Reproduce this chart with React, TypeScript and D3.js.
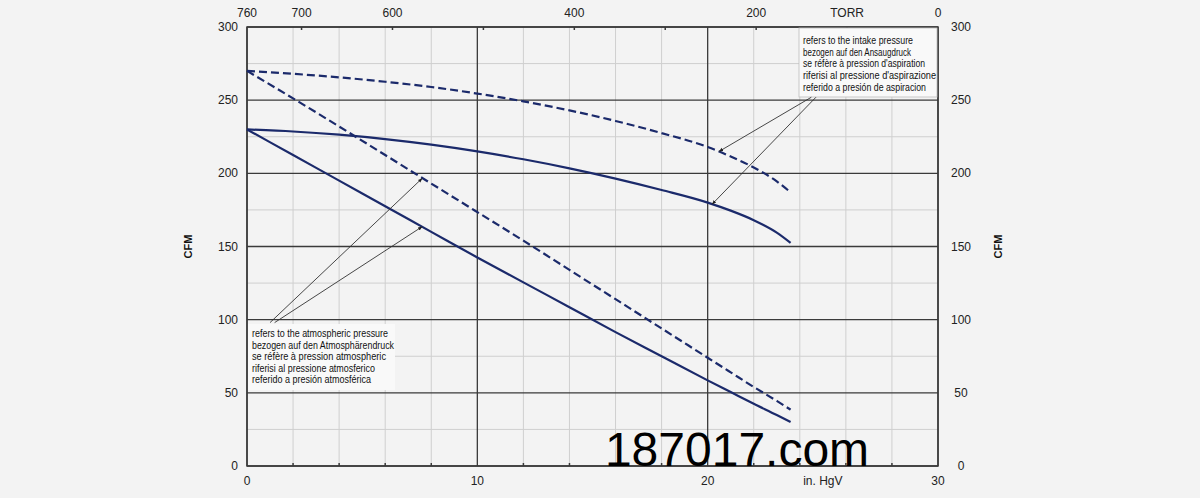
import React from 'react';
import * as d3 from 'd3';

// ---- data (x in in. HgV, y in CFM) ----
const inHg = [0, 2, 4, 6, 8, 10, 12, 14, 16, 18, 20, 21, 22, 23, 23.6];
const intakeSolid = [230, 228.6, 226.4, 223.4, 219.6, 215, 209.6, 203.4, 196.4, 188.6, 180, 174.5, 168, 159.5, 152.5];
const intakeDashed = [270, 268, 265.6, 262.6, 259, 254.5, 249.2, 243, 235.8, 227.5, 218, 211.5, 204, 194.5, 187];
const atmSolid = [230, 212.5, 195, 177.5, 160, 142.5, 125.5, 108.5, 91.5, 75, 58.5, 50.5, 42.5, 34.8, 30];
const atmDashed = [270, 251.2, 232, 212.5, 193, 173.5, 154, 134, 114, 94, 74, 64, 54, 44.5, 38.5];

const yTicks = [0, 50, 100, 150, 200, 250, 300];
const yMinor = [25, 75, 125, 175, 225, 275];
const xTicks = [0, 10, 20, 30];
const xMinor = [2, 4, 6, 8, 12, 14, 16, 18, 22, 24, 26, 28];
const torrLabels = [760, 700, 600, 400, 200, 0];
const torrTickMarks = [700, 600, 500, 400, 300, 200, 100];

const intakeNote = [
  'refers to the intake pressure',
  'bezogen auf den Ansaugdruck',
  "se réfère à pression d'aspiration",
  "riferisi al pressione d'aspirazione",
  'referido a presión de aspiracion',
];
const intakeNoteWidths = [110, 108, 122, 133, 123];
const atmNote = [
  'refers to the atmospheric pressure',
  'bezogen auf den Atmosphärendruck',
  'se réfère à pression atmospheric',
  'riferisi al pressione atmosferico',
  'referido a presión atmosférica',
];
const atmNoteWidths = [136, 142, 134, 123, 119];

// leader anchors in data units: [startX, startY, tipX, tipY]
const intakeLeaders = [
  [24.5, 252, 20.5, 215],
  [24.7, 252, 20.2, 179],
];
const atmLeaders = [
  [1.0, 98, 7.6, 196.5],
  [1.2, 98, 7.6, 163.5],
];

const W = 1200;
const H = 498;
const NAVY = '#1b2a6b';
const NARROW = "'Liberation Sans Narrow', 'Arial Narrow', 'Liberation Sans', sans-serif";

export default function App() {
  const x = d3.scaleLinear().domain([0, 30]).range([247, 938]);
  const y = d3.scaleLinear().domain([0, 300]).range([466, 27]);
  const torr = d3.scaleLinear().domain([760, 0]).range([247, 938]);

  const line = (vals: number[]) =>
    d3
      .line<number>()
      .x((_, i) => x(inHg[i]))
      .y((v) => y(v))
      .curve(d3.curveMonotoneX)(vals) as string;

  const [x0, x1] = x.range();
  const [yb, yt] = y.range();

  return (
    <div style={{ position: 'fixed', left: 0, top: 0, width: W, height: H }}>
      <svg width={W} height={H} viewBox={`0 0 ${W} ${H}`} style={{ display: 'block' }}>
        <defs>
          <marker id="arr" viewBox="0 0 10 10" refX="9" refY="5" markerWidth="5" markerHeight="5" orient="auto">
            <path d="M0,1 L10,5 L0,9 z" fill="#222" />
          </marker>
        </defs>
        <rect x={0} y={0} width={W} height={H} fill="#f3f3f3" />

        {/* minor grid */}
        {xMinor.map((t) => (
          <line key={'xm' + t} x1={x(t)} x2={x(t)} y1={yt} y2={yb} stroke="#cfcfcf" strokeWidth={1} />
        ))}
        {yMinor.map((t) => (
          <line key={'ym' + t} x1={x0} x2={x1} y1={y(t)} y2={y(t)} stroke="#cfcfcf" strokeWidth={1} />
        ))}
        {/* major grid */}
        {yTicks.map((t) => (
          <line key={'yM' + t} x1={x0} x2={x1} y1={y(t)} y2={y(t)} stroke="#3a3a3a" strokeWidth={1.3} />
        ))}
        {xTicks.map((t) => (
          <line key={'xM' + t} x1={x(t)} x2={x(t)} y1={yt} y2={yb} stroke="#3a3a3a" strokeWidth={1.3} />
        ))}
        {/* top torr tick marks */}
        {torrTickMarks.map((t) => (
          <line key={'tt' + t} x1={torr(t)} x2={torr(t)} y1={yt} y2={yt + 3} stroke="#3a3a3a" strokeWidth={1.5} />
        ))}
        {xMinor.map((t) => (
          <line key={'bt' + t} x1={x(t)} x2={x(t)} y1={yb} y2={yb - 3} stroke="#3a3a3a" strokeWidth={1.5} />
        ))}
        {/* border */}
        <rect x={x0} y={yt} width={x1 - x0} height={yb - yt} fill="none" stroke="#3a3a3a" strokeWidth={1.5} />

        {/* note boxes */}
        <rect x={799} y={yt + 1} width={138} height={69} fill="#f9f9f9" stroke="#bdbdbd" strokeWidth={0.8} />
        <rect x={x0 + 1} y={324} width={147} height={66} fill="#f9f9f9" />

        {/* curves */}
        <g fill="none" stroke={NAVY} strokeWidth={2.2}>
          <path d={line(intakeSolid)} />
          <path d={line(atmSolid)} />
          <path d={line(intakeDashed)} strokeDasharray="8 4" />
          <path d={line(atmDashed)} strokeDasharray="8 4" />
        </g>

        {/* leaders */}
        {[...intakeLeaders, ...atmLeaders].map((l, i) => (
          <line
            key={'ld' + i}
            x1={x(l[0])}
            y1={y(l[1])}
            x2={x(l[2])}
            y2={y(l[3])}
            stroke="#333"
            strokeWidth={0.9}
            markerEnd="url(#arr)"
          />
        ))}

        {/* note text */}
        <g fontFamily={NARROW} fontSize={10.5} fill="#111">
          {intakeNote.map((s, i) => (
            <text
              key={'in' + i}
              x={803}
              y={44 + i * 11.7}
              textLength={intakeNoteWidths[i]}
              lengthAdjust="spacingAndGlyphs"
            >
              {s}
            </text>
          ))}
          {atmNote.map((s, i) => (
            <text
              key={'at' + i}
              x={252}
              y={337 + i * 11.6}
              textLength={atmNoteWidths[i]}
              lengthAdjust="spacingAndGlyphs"
            >
              {s}
            </text>
          ))}
        </g>

        {/* axis labels */}
        <g fontFamily={NARROW} fontSize={12} fill="#222">
          {yTicks.map((t) => (
            <text key={'yl' + t} x={238} y={y(t) + 4} textAnchor="end">
              {t}
            </text>
          ))}
          {yTicks.map((t) => (
            <text key={'yr' + t} x={961} y={y(t) + 4} textAnchor="middle">
              {t}
            </text>
          ))}
          {xTicks.map((t) => (
            <text key={'xl' + t} x={x(t)} y={485} textAnchor="middle">
              {t}
            </text>
          ))}
          <text x={x(25)} y={485} textAnchor="middle">in. HgV</text>
          {torrLabels.map((t) => (
            <text key={'tl' + t} x={torr(t)} y={17} textAnchor="middle">
              {t}
            </text>
          ))}
          <text x={torr(100)} y={17} textAnchor="middle">TORR</text>
        </g>
        <g fontFamily={NARROW} fontSize={11} fontWeight="bold" fill="#111">
          <text transform={`translate(192,${y(150)}) rotate(-90)`} textAnchor="middle">CFM</text>
          <text transform={`translate(1002,${y(150)}) rotate(-90)`} textAnchor="middle">CFM</text>
        </g>

        {/* watermark */}
        <text x={737} y={466} textAnchor="middle" fontFamily="'Liberation Sans', Arial, sans-serif" fontSize={48} fill="#000">
          187017.com
        </text>
      </svg>
    </div>
  );
}
